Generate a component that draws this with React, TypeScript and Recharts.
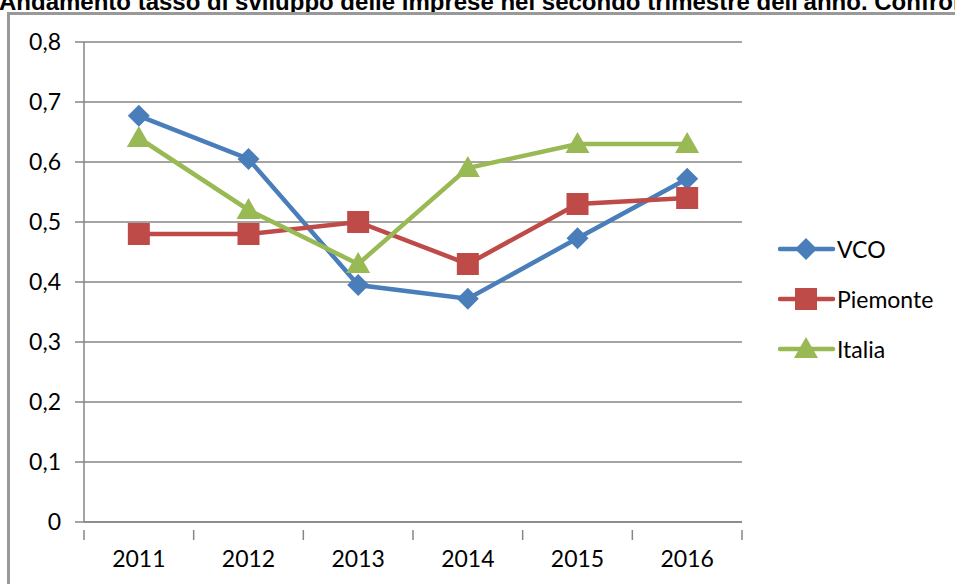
import { LineChart, Line, XAxis, YAxis, CartesianGrid, Legend } from 'recharts';

const years = ['2011', '2012', '2013', '2014', '2015', '2016'];
const vco = [0.677, 0.605, 0.395, 0.372, 0.473, 0.572];
const piemonte = [0.48, 0.48, 0.5, 0.43, 0.53, 0.54];
const italia = [0.64, 0.52, 0.43, 0.59, 0.63, 0.63];
const yTicks = [0, 0.1, 0.2, 0.3, 0.4, 0.5, 0.6, 0.7, 0.8];

const data = years.map((year, i) => ({ year, VCO: vco[i], Piemonte: piemonte[i], Italia: italia[i] }));

const BLUE = '#4A7EBB';
const RED = '#BE4B48';
const GREEN = '#98B954';
const GRID = '#868686';
const FONT = 'Lato, "Open Sans", sans-serif';

const PLOT_W = 658;
const band = PLOT_W / years.length;

const Diamond = (props: any) => {
  const { cx, cy, fill } = props;
  if (cx == null || cy == null) return null;
  const r = 11;
  return <polygon points={`${cx},${cy - r} ${cx + r},${cy} ${cx},${cy + r} ${cx - r},${cy}`} fill={fill} />;
};

const Square = (props: any) => {
  const { cx, cy, fill } = props;
  if (cx == null || cy == null) return null;
  return <rect x={cx - 11} y={cy - 11} width={22} height={22} fill={fill} />;
};

const Triangle = (props: any) => {
  const { cx, cy, fill } = props;
  if (cx == null || cy == null) return null;
  return <polygon points={`${cx},${cy - 12} ${cx + 12},${cy + 9} ${cx - 12},${cy + 9}`} fill={fill} />;
};

const XTick = (props: any) => {
  const { x, y, payload, index } = props;
  const last = index === years.length - 1;
  return (
    <g>
      <line x1={x - band / 2} y1={y} x2={x - band / 2} y2={y + 10} stroke={GRID} strokeWidth={1.5} />
      {last && <line x1={x + band / 2} y1={y} x2={x + band / 2} y2={y + 10} stroke={GRID} strokeWidth={1.5} />}
      <text x={x} y={y + 37} textAnchor="middle" fill="#000" fontSize={23} fontFamily={FONT}>
        {payload.value}
      </text>
    </g>
  );
};

const series = [
  { key: 'VCO', color: BLUE, Marker: Diamond },
  { key: 'Piemonte', color: RED, Marker: Square },
  { key: 'Italia', color: GREEN, Marker: Triangle },
];

const LegendContent = () => (
  <div>
    {series.map(({ key, color, Marker }) => (
      <div key={key} style={{ display: 'flex', alignItems: 'center', height: 50 }}>
        <svg width={58} height={26}>
          <line x1={2} y1={13} x2={55} y2={13} stroke={color} strokeWidth={4.5} strokeLinecap="round" />
          <Marker cx={28} cy={13} fill={color} />
        </svg>
        <span style={{ fontFamily: FONT, fontSize: 23, color: '#000', marginLeft: 1 }}>{key}</span>
      </div>
    ))}
  </div>
);

export default function App() {
  return (
    <div style={{ position: 'fixed', left: 0, top: 0, width: 955, height: 584, overflow: 'hidden', background: '#fff' }}>
      <div
        style={{
          position: 'absolute',
          left: -1,
          top: -10,
          whiteSpace: 'nowrap',
          fontFamily: '"Liberation Sans", Arial, sans-serif',
          fontWeight: 'bold',
          fontSize: 24,
          lineHeight: '24px',
          color: '#000',
        }}
      >
        Andamento tasso di sviluppo delle imprese nel secondo trimestre dell'anno. Confronto VCO, Piemonte, Italia
      </div>
      <div style={{ position: 'absolute', left: 7, top: 12, width: 960, height: 600, borderLeft: '3px solid #999', borderTop: '3px solid #999' }} />
      <div style={{ position: 'absolute', left: 0, top: 0 }}>
        <LineChart width={955} height={584} data={data} margin={{ top: 42, right: 213, bottom: 0, left: 0 }}>
          <CartesianGrid horizontal vertical={false} stroke={GRID} strokeWidth={1.3} />
          <XAxis
            dataKey="year"
            height={62}
            stroke={GRID}
            strokeWidth={1.5}
            tickLine={false}
            tick={<XTick />}
            interval={0}
            padding={{ left: band / 2, right: band / 2 }}
          />
          <YAxis
            width={84}
            domain={[0, 0.8]}
            ticks={yTicks}
            tickFormatter={(v: number) => (v === 0 ? '0' : v.toFixed(1).replace('.', ','))}
            stroke={GRID}
            strokeWidth={1.5}
            tickSize={9}
            tickMargin={14}
            tick={{ fill: '#000', fontSize: 23, fontFamily: FONT }}
          />
          <Legend
            layout="vertical"
            align="center"
            verticalAlign="middle"
            content={<LegendContent />}
            wrapperStyle={{ left: 778, top: 224, width: 170 }}
          />
          {series.map(({ key, color, Marker }) => (
            <Line
              key={key}
              dataKey={key}
              stroke={color}
              strokeWidth={4.5}
              dot={<Marker fill={color} />}
              activeDot={false}
              isAnimationActive={false}
            />
          ))}
        </LineChart>
      </div>
    </div>
  );
}
